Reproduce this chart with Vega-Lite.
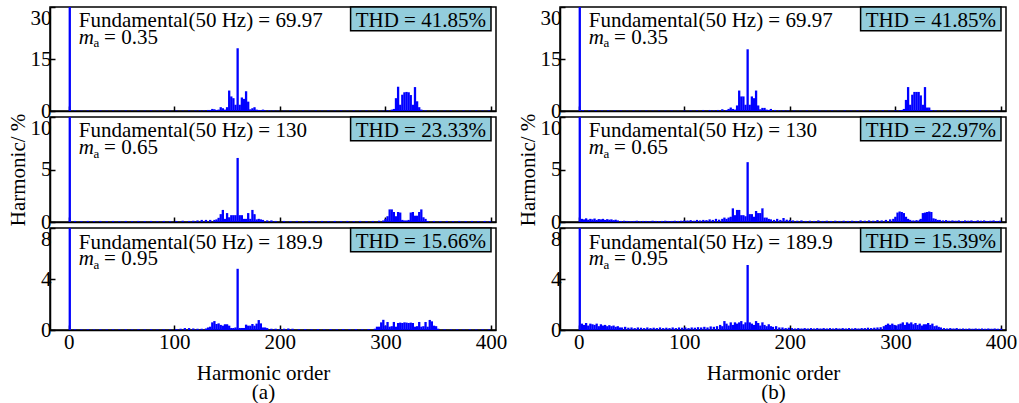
{
  "$schema": "https://vega.github.io/schema/vega-lite/v6.json",
  "padding": {"left": 6, "top": 5, "right": 2, "bottom": 2},
  "config": {
    "font": "Liberation Serif",
    "view": {"stroke": "black", "strokeWidth": 1.5},
    "axis": {
      "grid": false,
      "domainColor": "black",
      "domainWidth": 1.5,
      "tickColor": "black",
      "tickWidth": 1.5,
      "tickSize": -5,
      "labelFont": "Liberation Serif",
      "labelFontSize": 21,
      "labelColor": "black",
      "titleFont": "Liberation Serif",
      "titleFontSize": 21,
      "titleFontWeight": "normal",
      "titleColor": "black"
    },
    "text": {"font": "Liberation Serif", "fill": "black", "baseline": "alphabetic", "align": "left", "fontSize": 21}
  },
  "datasets": {
    "a1": [
      {"h":1,"v":100},
      {"h":6,"v":0.15},{"h":12,"v":0.1},{"h":18,"v":0.15},{"h":24,"v":0.1},{"h":30,"v":0.15},{"h":36,"v":0.1},{"h":42,"v":0.15},{"h":48,"v":0.1},{"h":54,"v":0.15},{"h":60,"v":0.1},{"h":66,"v":0.15},{"h":72,"v":0.1},{"h":78,"v":0.15},{"h":84,"v":0.1},{"h":90,"v":0.15},{"h":96,"v":0.1},{"h":102,"v":0.15},{"h":108,"v":0.1},{"h":114,"v":0.2},{"h":120,"v":0.15},
      {"h":124,"v":0.2},{"h":128,"v":0.2},{"h":132,"v":0.3},{"h":134,"v":0.3},{"h":136,"v":0.6},{"h":138,"v":0.5},{"h":140,"v":0.3},{"h":142,"v":0.4},{"h":144,"v":1.1},{"h":146,"v":0.8},{"h":148,"v":0.4},{"h":150,"v":1.1},{"h":152,"v":5.9},{"h":154,"v":4.2},{"h":156,"v":3.7},{"h":158,"v":1.8},{"h":160,"v":18.1},{"h":162,"v":1.8},{"h":164,"v":3.9},{"h":166,"v":3.5},{"h":168,"v":5.7},{"h":170,"v":2.7},{"h":172,"v":0.5},{"h":174,"v":0.8},{"h":176,"v":1.1},{"h":178,"v":0.4},{"h":180,"v":0.3},{"h":182,"v":0.2},{"h":184,"v":0.4},{"h":186,"v":0.2},{"h":190,"v":0.2},{"h":194,"v":0.15},{"h":198,"v":0.1},
      {"h":204,"v":0.1},{"h":210,"v":0.15},{"h":216,"v":0.1},{"h":222,"v":0.15},{"h":228,"v":0.1},{"h":234,"v":0.15},{"h":240,"v":0.1},{"h":246,"v":0.15},{"h":252,"v":0.1},{"h":258,"v":0.15},{"h":264,"v":0.1},{"h":270,"v":0.15},{"h":276,"v":0.1},{"h":282,"v":0.15},{"h":288,"v":0.1},{"h":294,"v":0.15},{"h":298,"v":0.1},
      {"h":302,"v":0.2},{"h":306,"v":0.4},{"h":308,"v":0.6},{"h":310,"v":3.7},{"h":312,"v":7.0},{"h":314,"v":1.8},{"h":316,"v":4.7},{"h":318,"v":5.4},{"h":320,"v":5.5},{"h":322,"v":5.4},{"h":324,"v":4.6},{"h":326,"v":1.8},{"h":328,"v":6.9},{"h":330,"v":2.8},{"h":332,"v":1.1},{"h":334,"v":0.4},{"h":338,"v":0.2},
      {"h":344,"v":0.1},{"h":350,"v":0.15},{"h":356,"v":0.1},{"h":362,"v":0.15},{"h":368,"v":0.1},{"h":374,"v":0.15},{"h":380,"v":0.1},{"h":386,"v":0.15},{"h":392,"v":0.1},{"h":398,"v":0.15}
    ],
    "a2": [
      {"h":1,"v":100},
      {"h":6,"v":0.1},{"h":12,"v":0.08},{"h":18,"v":0.1},{"h":24,"v":0.08},{"h":30,"v":0.1},{"h":36,"v":0.08},{"h":42,"v":0.1},{"h":48,"v":0.08},{"h":54,"v":0.1},{"h":60,"v":0.08},{"h":66,"v":0.1},{"h":72,"v":0.08},{"h":78,"v":0.1},{"h":84,"v":0.08},{"h":90,"v":0.1},{"h":96,"v":0.08},{"h":102,"v":0.1},{"h":108,"v":0.12},{"h":114,"v":0.1},{"h":118,"v":0.12},
      {"h":122,"v":0.15},{"h":126,"v":0.2},{"h":130,"v":0.2},{"h":134,"v":0.2},{"h":138,"v":0.2},{"h":140,"v":0.25},{"h":142,"v":0.4},{"h":144,"v":0.75},{"h":146,"v":1.15},{"h":148,"v":0.3},{"h":150,"v":0.85},{"h":152,"v":0.45},{"h":154,"v":0.65},{"h":156,"v":0.65},{"h":158,"v":0.65},{"h":160,"v":6.1},{"h":162,"v":0.65},{"h":164,"v":0.65},{"h":166,"v":0.3},{"h":168,"v":0.3},{"h":170,"v":0.85},{"h":172,"v":0.3},{"h":174,"v":1.15},{"h":176,"v":0.75},{"h":178,"v":0.25},{"h":180,"v":0.3},{"h":182,"v":0.25},{"h":184,"v":0.2},{"h":188,"v":0.15},{"h":192,"v":0.15},{"h":196,"v":0.1},
      {"h":204,"v":0.1},{"h":210,"v":0.08},{"h":216,"v":0.1},{"h":222,"v":0.08},{"h":228,"v":0.1},{"h":234,"v":0.08},{"h":240,"v":0.1},{"h":246,"v":0.08},{"h":252,"v":0.1},{"h":258,"v":0.08},{"h":264,"v":0.1},{"h":270,"v":0.08},{"h":276,"v":0.1},{"h":282,"v":0.08},{"h":288,"v":0.1},{"h":294,"v":0.12},
      {"h":298,"v":0.15},{"h":300,"v":0.3},{"h":302,"v":0.55},{"h":304,"v":1.2},{"h":306,"v":1.2},{"h":308,"v":0.95},{"h":310,"v":0.55},{"h":312,"v":0.95},{"h":314,"v":0.9},{"h":316,"v":0.2},{"h":318,"v":0.15},{"h":320,"v":0.15},{"h":322,"v":0.2},{"h":324,"v":0.9},{"h":326,"v":0.95},{"h":328,"v":0.6},{"h":330,"v":0.6},{"h":332,"v":0.95},{"h":334,"v":1.2},{"h":336,"v":0.45},{"h":338,"v":0.3},{"h":340,"v":0.1},
      {"h":346,"v":0.1},{"h":352,"v":0.08},{"h":358,"v":0.1},{"h":364,"v":0.08},{"h":370,"v":0.1},{"h":376,"v":0.08},{"h":382,"v":0.1},{"h":388,"v":0.08},{"h":394,"v":0.1},{"h":399,"v":0.08}
    ],
    "a3": [
      {"h":1,"v":100},
      {"h":6,"v":0.06},{"h":12,"v":0.05},{"h":18,"v":0.06},{"h":24,"v":0.05},{"h":30,"v":0.06},{"h":36,"v":0.05},{"h":42,"v":0.06},{"h":48,"v":0.05},{"h":54,"v":0.06},{"h":60,"v":0.05},{"h":66,"v":0.06},{"h":72,"v":0.05},{"h":78,"v":0.06},{"h":84,"v":0.05},{"h":90,"v":0.06},{"h":96,"v":0.05},{"h":102,"v":0.08},{"h":106,"v":0.1},{"h":110,"v":0.15},{"h":114,"v":0.15},{"h":118,"v":0.12},{"h":122,"v":0.1},{"h":126,"v":0.1},{"h":130,"v":0.12},
      {"h":132,"v":0.2},{"h":134,"v":0.26},{"h":136,"v":0.6},{"h":138,"v":0.7},{"h":140,"v":0.47},{"h":142,"v":0.52},{"h":144,"v":0.4},{"h":146,"v":0.34},{"h":148,"v":0.45},{"h":150,"v":0.45},{"h":152,"v":0.34},{"h":154,"v":0.16},{"h":156,"v":0.16},{"h":158,"v":0.2},{"h":160,"v":4.8},{"h":162,"v":0.16},{"h":164,"v":0.16},{"h":166,"v":0.16},{"h":168,"v":0.42},{"h":170,"v":0.34},{"h":172,"v":0.34},{"h":174,"v":0.47},{"h":176,"v":0.34},{"h":178,"v":0.5},{"h":180,"v":0.78},{"h":182,"v":0.52},{"h":184,"v":0.2},{"h":186,"v":0.2},{"h":188,"v":0.15},{"h":192,"v":0.1},{"h":196,"v":0.1},{"h":200,"v":0.08},{"h":204,"v":0.1},{"h":208,"v":0.12},{"h":212,"v":0.1},
      {"h":218,"v":0.06},{"h":224,"v":0.08},{"h":230,"v":0.06},{"h":236,"v":0.08},{"h":242,"v":0.06},{"h":248,"v":0.08},{"h":254,"v":0.06},{"h":260,"v":0.08},{"h":266,"v":0.06},{"h":272,"v":0.08},{"h":278,"v":0.06},{"h":284,"v":0.08},
      {"h":290,"v":0.1},{"h":292,"v":0.26},{"h":294,"v":0.26},{"h":296,"v":0.6},{"h":298,"v":0.8},{"h":300,"v":0.34},{"h":302,"v":0.63},{"h":304,"v":0.26},{"h":306,"v":0.3},{"h":308,"v":0.63},{"h":310,"v":0.26},{"h":312,"v":0.55},{"h":314,"v":0.58},{"h":316,"v":0.55},{"h":318,"v":0.6},{"h":320,"v":0.58},{"h":322,"v":0.55},{"h":324,"v":0.58},{"h":326,"v":0.55},{"h":328,"v":0.26},{"h":330,"v":0.3},{"h":332,"v":0.63},{"h":334,"v":0.26},{"h":336,"v":0.3},{"h":338,"v":0.63},{"h":340,"v":0.26},{"h":342,"v":0.79},{"h":344,"v":0.68},{"h":346,"v":0.34},{"h":348,"v":0.3},{"h":350,"v":0.1},
      {"h":356,"v":0.06},{"h":362,"v":0.05},{"h":368,"v":0.06},{"h":374,"v":0.05},{"h":380,"v":0.06},{"h":386,"v":0.05},{"h":392,"v":0.06},{"h":398,"v":0.05}
    ],
    "b1": [
      {"h":1,"v":100},
      {"h":4,"v":0.25},{"h":10,"v":0.2},{"h":16,"v":0.25},{"h":22,"v":0.15},{"h":28,"v":0.2},{"h":34,"v":0.15},{"h":40,"v":0.15},{"h":46,"v":0.1},{"h":52,"v":0.15},{"h":58,"v":0.1},{"h":64,"v":0.15},{"h":70,"v":0.1},{"h":76,"v":0.15},{"h":82,"v":0.1},{"h":88,"v":0.15},{"h":94,"v":0.1},{"h":100,"v":0.15},{"h":106,"v":0.15},{"h":112,"v":0.2},{"h":118,"v":0.3},
      {"h":124,"v":0.3},{"h":128,"v":0.2},{"h":132,"v":0.3},{"h":136,"v":0.5},{"h":140,"v":0.3},{"h":142,"v":0.6},{"h":144,"v":1.0},{"h":146,"v":0.6},{"h":148,"v":0.4},{"h":150,"v":1.6},{"h":152,"v":5.9},{"h":154,"v":4.2},{"h":156,"v":4.2},{"h":158,"v":1.8},{"h":160,"v":17.8},{"h":162,"v":1.8},{"h":164,"v":4.2},{"h":166,"v":3.7},{"h":168,"v":5.9},{"h":170,"v":1.6},{"h":172,"v":0.5},{"h":174,"v":0.9},{"h":176,"v":0.9},{"h":178,"v":0.4},{"h":180,"v":0.3},{"h":182,"v":0.6},{"h":186,"v":0.3},{"h":190,"v":0.2},{"h":194,"v":0.2},{"h":198,"v":0.15},
      {"h":204,"v":0.15},{"h":210,"v":0.1},{"h":216,"v":0.15},{"h":222,"v":0.1},{"h":228,"v":0.15},{"h":234,"v":0.1},{"h":240,"v":0.15},{"h":246,"v":0.1},{"h":252,"v":0.15},{"h":258,"v":0.1},{"h":264,"v":0.15},{"h":270,"v":0.1},{"h":276,"v":0.15},{"h":282,"v":0.15},{"h":288,"v":0.2},{"h":294,"v":0.15},{"h":300,"v":0.2},
      {"h":304,"v":0.2},{"h":306,"v":0.3},{"h":308,"v":0.6},{"h":310,"v":3.2},{"h":312,"v":6.9},{"h":314,"v":1.8},{"h":316,"v":4.7},{"h":318,"v":5.5},{"h":320,"v":5.5},{"h":322,"v":5.5},{"h":324,"v":4.5},{"h":326,"v":1.8},{"h":328,"v":6.9},{"h":330,"v":1.0},{"h":332,"v":1.0},{"h":334,"v":0.3},{"h":338,"v":0.2},
      {"h":344,"v":0.15},{"h":350,"v":0.1},{"h":356,"v":0.15},{"h":362,"v":0.1},{"h":368,"v":0.15},{"h":374,"v":0.1},{"h":380,"v":0.15},{"h":386,"v":0.1},{"h":392,"v":0.15},{"h":398,"v":0.1}
    ],
    "b2": [
      {"h":1,"v":100},
      {"h":3,"v":0.3},{"h":5,"v":0.25},{"h":7,"v":0.35},{"h":9,"v":0.22},{"h":11,"v":0.3},{"h":13,"v":0.25},{"h":15,"v":0.33},{"h":17,"v":0.2},{"h":19,"v":0.28},{"h":21,"v":0.25},{"h":23,"v":0.3},{"h":25,"v":0.2},{"h":27,"v":0.27},{"h":29,"v":0.22},{"h":31,"v":0.25},{"h":33,"v":0.18},{"h":35,"v":0.22},{"h":37,"v":0.15},
      {"h":40,"v":0.1},{"h":43,"v":0.12},{"h":46,"v":0.1},{"h":49,"v":0.08},{"h":52,"v":0.1},{"h":55,"v":0.12},{"h":58,"v":0.08},{"h":61,"v":0.1},{"h":64,"v":0.1},{"h":67,"v":0.08},{"h":70,"v":0.12},{"h":73,"v":0.1},{"h":76,"v":0.08},{"h":79,"v":0.1},{"h":82,"v":0.12},{"h":85,"v":0.1},{"h":88,"v":0.1},{"h":91,"v":0.12},{"h":94,"v":0.1},{"h":97,"v":0.12},{"h":100,"v":0.15},
      {"h":103,"v":0.15},{"h":106,"v":0.18},{"h":109,"v":0.12},{"h":112,"v":0.2},{"h":115,"v":0.15},{"h":118,"v":0.2},{"h":121,"v":0.18},{"h":124,"v":0.25},{"h":127,"v":0.2},{"h":130,"v":0.3},{"h":133,"v":0.22},{"h":136,"v":0.3},
      {"h":138,"v":0.42},{"h":140,"v":0.3},{"h":142,"v":0.42},{"h":144,"v":0.5},{"h":146,"v":1.3},{"h":148,"v":0.65},{"h":150,"v":1.15},{"h":152,"v":1.15},{"h":154,"v":0.65},{"h":156,"v":0.65},{"h":158,"v":0.55},{"h":160,"v":5.7},{"h":162,"v":0.75},{"h":164,"v":0.75},{"h":166,"v":0.5},{"h":168,"v":1.05},{"h":170,"v":0.85},{"h":172,"v":0.85},{"h":174,"v":1.3},{"h":176,"v":0.42},{"h":178,"v":0.42},{"h":180,"v":0.3},{"h":182,"v":0.25},{"h":185,"v":0.2},{"h":188,"v":0.3},{"h":191,"v":0.2},{"h":194,"v":0.38},{"h":197,"v":0.22},{"h":200,"v":0.2},
      {"h":203,"v":0.15},{"h":207,"v":0.12},{"h":211,"v":0.15},{"h":215,"v":0.1},{"h":219,"v":0.12},{"h":223,"v":0.1},{"h":227,"v":0.15},{"h":231,"v":0.1},{"h":235,"v":0.12},{"h":239,"v":0.1},{"h":243,"v":0.12},{"h":247,"v":0.1},{"h":251,"v":0.12},{"h":255,"v":0.1},{"h":259,"v":0.12},{"h":263,"v":0.1},{"h":267,"v":0.15},{"h":271,"v":0.12},{"h":275,"v":0.15},{"h":279,"v":0.12},{"h":283,"v":0.18},{"h":287,"v":0.15},{"h":291,"v":0.2},{"h":295,"v":0.25},{"h":298,"v":0.3},
      {"h":300,"v":0.5},{"h":302,"v":0.9},{"h":304,"v":1.0},{"h":306,"v":0.95},{"h":308,"v":0.85},{"h":310,"v":0.5},{"h":312,"v":0.3},{"h":314,"v":0.2},{"h":317,"v":0.15},{"h":320,"v":0.18},{"h":323,"v":0.2},{"h":324,"v":0.3},{"h":326,"v":0.85},{"h":328,"v":0.9},{"h":330,"v":0.95},{"h":332,"v":1.0},{"h":334,"v":0.95},{"h":336,"v":0.35},{"h":338,"v":0.3},{"h":340,"v":0.2},
      {"h":342,"v":0.2},{"h":345,"v":0.15},{"h":348,"v":0.18},{"h":351,"v":0.12},{"h":354,"v":0.15},{"h":357,"v":0.12},{"h":360,"v":0.15},{"h":363,"v":0.1},{"h":366,"v":0.15},{"h":369,"v":0.12},{"h":372,"v":0.15},{"h":375,"v":0.1},{"h":378,"v":0.15},{"h":381,"v":0.12},{"h":384,"v":0.15},{"h":387,"v":0.1},{"h":390,"v":0.12},{"h":393,"v":0.15},{"h":396,"v":0.1},{"h":399,"v":0.12}
    ],
    "b3": [
      {"h":1,"v":100},
      {"h":3,"v":0.5},{"h":5,"v":0.4},{"h":7,"v":0.55},{"h":9,"v":0.35},{"h":11,"v":0.5},{"h":13,"v":0.45},{"h":15,"v":0.4},{"h":17,"v":0.5},{"h":19,"v":0.3},{"h":21,"v":0.45},{"h":23,"v":0.35},{"h":25,"v":0.4},{"h":27,"v":0.3},{"h":29,"v":0.38},{"h":31,"v":0.3},{"h":33,"v":0.35},{"h":35,"v":0.25},{"h":37,"v":0.3},{"h":39,"v":0.2},
      {"h":41,"v":0.2},{"h":44,"v":0.25},{"h":47,"v":0.18},{"h":50,"v":0.2},{"h":53,"v":0.15},{"h":56,"v":0.2},{"h":59,"v":0.18},{"h":62,"v":0.15},{"h":65,"v":0.2},{"h":68,"v":0.15},{"h":71,"v":0.18},{"h":74,"v":0.15},{"h":77,"v":0.2},{"h":80,"v":0.15},{"h":83,"v":0.18},{"h":86,"v":0.15},{"h":89,"v":0.2},{"h":92,"v":0.15},{"h":95,"v":0.2},{"h":98,"v":0.18},{"h":101,"v":0.2},{"h":104,"v":0.15},{"h":107,"v":0.2},{"h":110,"v":0.18},{"h":113,"v":0.22},{"h":116,"v":0.2},{"h":119,"v":0.25},{"h":122,"v":0.2},{"h":125,"v":0.28},{"h":128,"v":0.25},{"h":131,"v":0.3},
      {"h":134,"v":0.4},{"h":136,"v":0.3},{"h":138,"v":0.7},{"h":140,"v":0.5},{"h":142,"v":0.35},{"h":144,"v":0.6},{"h":146,"v":0.4},{"h":148,"v":0.6},{"h":150,"v":0.5},{"h":152,"v":0.6},{"h":154,"v":0.7},{"h":156,"v":0.45},{"h":158,"v":0.6},{"h":160,"v":5.1},{"h":162,"v":0.6},{"h":164,"v":0.5},{"h":166,"v":0.4},{"h":168,"v":0.7},{"h":170,"v":0.55},{"h":172,"v":0.35},{"h":174,"v":0.6},{"h":176,"v":0.4},{"h":178,"v":0.3},{"h":180,"v":0.45},{"h":182,"v":0.3},{"h":184,"v":0.25},{"h":187,"v":0.3},{"h":190,"v":0.2},
      {"h":193,"v":0.2},{"h":196,"v":0.15},{"h":199,"v":0.18},{"h":202,"v":0.15},{"h":205,"v":0.12},{"h":208,"v":0.15},{"h":211,"v":0.12},{"h":214,"v":0.15},{"h":217,"v":0.12},{"h":220,"v":0.15},{"h":223,"v":0.12},{"h":226,"v":0.15},{"h":229,"v":0.12},{"h":232,"v":0.15},{"h":235,"v":0.12},{"h":238,"v":0.15},{"h":241,"v":0.12},{"h":244,"v":0.15},{"h":247,"v":0.12},{"h":250,"v":0.15},{"h":253,"v":0.12},{"h":256,"v":0.15},{"h":259,"v":0.12},{"h":262,"v":0.15},{"h":265,"v":0.12},{"h":268,"v":0.15},{"h":271,"v":0.15},{"h":274,"v":0.18},{"h":277,"v":0.15},{"h":280,"v":0.18},{"h":283,"v":0.2},{"h":286,"v":0.22},
      {"h":289,"v":0.3},{"h":291,"v":0.4},{"h":293,"v":0.5},{"h":295,"v":0.4},{"h":297,"v":0.5},{"h":299,"v":0.4},{"h":301,"v":0.35},{"h":303,"v":0.45},{"h":305,"v":0.5},{"h":307,"v":0.6},{"h":309,"v":0.4},{"h":311,"v":0.6},{"h":313,"v":0.5},{"h":315,"v":0.6},{"h":317,"v":0.45},{"h":319,"v":0.55},{"h":321,"v":0.4},{"h":323,"v":0.5},{"h":325,"v":0.35},{"h":327,"v":0.45},{"h":329,"v":0.45},{"h":331,"v":0.55},{"h":333,"v":0.4},{"h":335,"v":0.5},{"h":337,"v":0.3},{"h":339,"v":0.35},{"h":341,"v":0.25},{"h":343,"v":0.2},{"h":346,"v":0.15},
      {"h":349,"v":0.12},{"h":352,"v":0.15},{"h":355,"v":0.12},{"h":358,"v":0.15},{"h":361,"v":0.1},{"h":364,"v":0.12},{"h":367,"v":0.1},{"h":370,"v":0.12},{"h":373,"v":0.1},{"h":376,"v":0.12},{"h":379,"v":0.1},{"h":382,"v":0.12},{"h":385,"v":0.1},{"h":388,"v":0.12},{"h":391,"v":0.1},{"h":394,"v":0.12},{"h":397,"v":0.1},{"h":400,"v":0.1}
    ]
  },
  "columns": 2,
  "spacing": {"row": 6, "column": 64},
  "bounds": "flush",
  "resolve": {"scale": {"x": "independent", "y": "independent"}},
  "concat": [
    {
      "width": 446, "height": 104,
      "layer": [
        {"data": {"name": "a1"}, "mark": {"type": "bar", "color": "#0000ff", "width": 2.3, "clip": true},
         "encoding": {
           "x": {"field": "h", "type": "quantitative", "scale": {"domain": [-13, 400], "nice": false, "zero": false}, "axis": {"values": [0, 100, 200, 300, 400], "labels": false, "title": null}},
           "y": {"field": "v", "type": "quantitative", "scale": {"domain": [0, 30], "nice": false}, "axis": {"values": [0, 15, 30], "title": null, "labelPadding": 4, "labelBaseline": {"condition": {"test": "datum.value === 30", "value": "top"}, "value": "middle"}}}}},
        {"data": {"values": [{}]}, "mark": {"type": "rect", "fill": "#93cddc", "stroke": "black", "strokeWidth": 1.5},
         "encoding": {"x": {"datum": 267, "type": "quantitative"}, "x2": {"datum": 400}, "y": {"datum": 30, "type": "quantitative"}, "y2": {"datum": 23.14}}},
        {"data": {"values": [{}]}, "mark": {"type": "text", "text": "THD = 41.85%", "align": "center"},
         "encoding": {"x": {"datum": 333.5, "type": "quantitative"}, "y": {"datum": 24.23, "type": "quantitative"}}},
        {"data": {"values": [{}]}, "mark": {"type": "text", "text": "Fundamental(50 Hz) = 69.97"},
         "encoding": {"x": {"datum": 9.5, "type": "quantitative"}, "y": {"datum": 24.09, "type": "quantitative"}}},
        {"data": {"values": [{}]}, "mark": {"type": "text", "text": "m", "fontStyle": "italic"},
         "encoding": {"x": {"datum": 9.5, "type": "quantitative"}, "y": {"datum": 19.39, "type": "quantitative"}}},
        {"data": {"values": [{}]}, "mark": {"type": "text", "text": "a", "fontSize": 13},
         "encoding": {"x": {"datum": 23.5, "type": "quantitative"}, "y": {"datum": 18.32, "type": "quantitative"}}},
        {"data": {"values": [{}]}, "mark": {"type": "text", "text": "= 0.35"},
         "encoding": {"x": {"datum": 33.5, "type": "quantitative"}, "y": {"datum": 19.39, "type": "quantitative"}}}
      ]
    },
    {
      "width": 446, "height": 104,
      "layer": [
        {"data": {"name": "b1"}, "mark": {"type": "bar", "color": "#0000ff", "width": 2.3, "clip": true},
         "encoding": {
           "x": {"field": "h", "type": "quantitative", "scale": {"domain": [-13, 400], "nice": false, "zero": false}, "axis": {"values": [0, 100, 200, 300, 400], "labels": false, "title": null}},
           "y": {"field": "v", "type": "quantitative", "scale": {"domain": [0, 30], "nice": false}, "axis": {"values": [0, 15, 30], "title": null, "labelPadding": 4, "labelBaseline": {"condition": {"test": "datum.value === 30", "value": "top"}, "value": "middle"}}}}},
        {"data": {"values": [{}]}, "mark": {"type": "rect", "fill": "#93cddc", "stroke": "black", "strokeWidth": 1.5},
         "encoding": {"x": {"datum": 267, "type": "quantitative"}, "x2": {"datum": 400}, "y": {"datum": 30, "type": "quantitative"}, "y2": {"datum": 23.14}}},
        {"data": {"values": [{}]}, "mark": {"type": "text", "text": "THD = 41.85%", "align": "center"},
         "encoding": {"x": {"datum": 333.5, "type": "quantitative"}, "y": {"datum": 24.23, "type": "quantitative"}}},
        {"data": {"values": [{}]}, "mark": {"type": "text", "text": "Fundamental(50 Hz) = 69.97"},
         "encoding": {"x": {"datum": 9.5, "type": "quantitative"}, "y": {"datum": 24.09, "type": "quantitative"}}},
        {"data": {"values": [{}]}, "mark": {"type": "text", "text": "m", "fontStyle": "italic"},
         "encoding": {"x": {"datum": 9.5, "type": "quantitative"}, "y": {"datum": 19.39, "type": "quantitative"}}},
        {"data": {"values": [{}]}, "mark": {"type": "text", "text": "a", "fontSize": 13},
         "encoding": {"x": {"datum": 23.5, "type": "quantitative"}, "y": {"datum": 18.32, "type": "quantitative"}}},
        {"data": {"values": [{}]}, "mark": {"type": "text", "text": "= 0.35"},
         "encoding": {"x": {"datum": 33.5, "type": "quantitative"}, "y": {"datum": 19.39, "type": "quantitative"}}}
      ]
    },
    {
      "width": 446, "height": 105,
      "layer": [
        {"data": {"name": "a2"}, "mark": {"type": "bar", "color": "#0000ff", "width": 2.3, "clip": true},
         "encoding": {
           "x": {"field": "h", "type": "quantitative", "scale": {"domain": [-13, 400], "nice": false, "zero": false}, "axis": {"values": [0, 100, 200, 300, 400], "labels": false, "title": null}},
           "y": {"field": "v", "type": "quantitative", "scale": {"domain": [0, 10], "nice": false}, "axis": {"values": [0, 5, 10], "title": "Harmonic/ %", "titlePadding": 2, "labelPadding": 4, "labelBaseline": {"condition": {"test": "datum.value === 10", "value": "top"}, "value": "middle"}}}}},
        {"data": {"values": [{}]}, "mark": {"type": "rect", "fill": "#93cddc", "stroke": "black", "strokeWidth": 1.5},
         "encoding": {"x": {"datum": 267, "type": "quantitative"}, "x2": {"datum": 400}, "y": {"datum": 10, "type": "quantitative"}, "y2": {"datum": 7.73}}},
        {"data": {"values": [{}]}, "mark": {"type": "text", "text": "THD = 23.33%", "align": "center"},
         "encoding": {"x": {"datum": 333.5, "type": "quantitative"}, "y": {"datum": 8.1, "type": "quantitative"}}},
        {"data": {"values": [{}]}, "mark": {"type": "text", "text": "Fundamental(50 Hz) = 130"},
         "encoding": {"x": {"datum": 9.5, "type": "quantitative"}, "y": {"datum": 8.05, "type": "quantitative"}}},
        {"data": {"values": [{}]}, "mark": {"type": "text", "text": "m", "fontStyle": "italic"},
         "encoding": {"x": {"datum": 9.5, "type": "quantitative"}, "y": {"datum": 6.5, "type": "quantitative"}}},
        {"data": {"values": [{}]}, "mark": {"type": "text", "text": "a", "fontSize": 13},
         "encoding": {"x": {"datum": 23.5, "type": "quantitative"}, "y": {"datum": 6.14, "type": "quantitative"}}},
        {"data": {"values": [{}]}, "mark": {"type": "text", "text": "= 0.65"},
         "encoding": {"x": {"datum": 33.5, "type": "quantitative"}, "y": {"datum": 6.5, "type": "quantitative"}}}
      ]
    },
    {
      "width": 446, "height": 105,
      "layer": [
        {"data": {"name": "b2"}, "mark": {"type": "bar", "color": "#0000ff", "width": 2.3, "clip": true},
         "encoding": {
           "x": {"field": "h", "type": "quantitative", "scale": {"domain": [-13, 400], "nice": false, "zero": false}, "axis": {"values": [0, 100, 200, 300, 400], "labels": false, "title": null}},
           "y": {"field": "v", "type": "quantitative", "scale": {"domain": [0, 10], "nice": false}, "axis": {"values": [0, 5, 10], "title": "Harmonic/ %", "titlePadding": 2, "labelPadding": 4, "labelBaseline": {"condition": {"test": "datum.value === 10", "value": "top"}, "value": "middle"}}}}},
        {"data": {"values": [{}]}, "mark": {"type": "rect", "fill": "#93cddc", "stroke": "black", "strokeWidth": 1.5},
         "encoding": {"x": {"datum": 267, "type": "quantitative"}, "x2": {"datum": 400}, "y": {"datum": 10, "type": "quantitative"}, "y2": {"datum": 7.73}}},
        {"data": {"values": [{}]}, "mark": {"type": "text", "text": "THD = 22.97%", "align": "center"},
         "encoding": {"x": {"datum": 333.5, "type": "quantitative"}, "y": {"datum": 8.1, "type": "quantitative"}}},
        {"data": {"values": [{}]}, "mark": {"type": "text", "text": "Fundamental(50 Hz) = 130"},
         "encoding": {"x": {"datum": 9.5, "type": "quantitative"}, "y": {"datum": 8.05, "type": "quantitative"}}},
        {"data": {"values": [{}]}, "mark": {"type": "text", "text": "m", "fontStyle": "italic"},
         "encoding": {"x": {"datum": 9.5, "type": "quantitative"}, "y": {"datum": 6.5, "type": "quantitative"}}},
        {"data": {"values": [{}]}, "mark": {"type": "text", "text": "a", "fontSize": 13},
         "encoding": {"x": {"datum": 23.5, "type": "quantitative"}, "y": {"datum": 6.14, "type": "quantitative"}}},
        {"data": {"values": [{}]}, "mark": {"type": "text", "text": "= 0.65"},
         "encoding": {"x": {"datum": 33.5, "type": "quantitative"}, "y": {"datum": 6.5, "type": "quantitative"}}}
      ]
    },
    {
      "width": 446, "height": 102,
      "layer": [
        {"data": {"name": "a3"}, "mark": {"type": "bar", "color": "#0000ff", "width": 2.3, "clip": true},
         "encoding": {
           "x": {"field": "h", "type": "quantitative", "scale": {"domain": [-13, 400], "nice": false, "zero": false}, "axis": {"values": [0, 100, 200, 300, 400], "title": ["Harmonic order", "(a)"], "labelPadding": 6, "labelFlush": false, "titlePadding": 10, "titleLineHeight": 19, "titleX": 213}},
           "y": {"field": "v", "type": "quantitative", "scale": {"domain": [0, 8], "nice": false}, "axis": {"values": [0, 4, 8], "title": null, "labelPadding": 4, "labelBaseline": {"condition": {"test": "datum.value === 8", "value": "top"}, "value": "middle"}}}}},
        {"data": {"values": [{}]}, "mark": {"type": "rect", "fill": "#93cddc", "stroke": "black", "strokeWidth": 1.5},
         "encoding": {"x": {"datum": 267, "type": "quantitative"}, "x2": {"datum": 400}, "y": {"datum": 8, "type": "quantitative"}, "y2": {"datum": 6.13}}},
        {"data": {"values": [{}]}, "mark": {"type": "text", "text": "THD = 15.66%", "align": "center"},
         "encoding": {"x": {"datum": 333.5, "type": "quantitative"}, "y": {"datum": 6.43, "type": "quantitative"}}},
        {"data": {"values": [{}]}, "mark": {"type": "text", "text": "Fundamental(50 Hz) = 189.9"},
         "encoding": {"x": {"datum": 9.5, "type": "quantitative"}, "y": {"datum": 6.39, "type": "quantitative"}}},
        {"data": {"values": [{}]}, "mark": {"type": "text", "text": "m", "fontStyle": "italic"},
         "encoding": {"x": {"datum": 9.5, "type": "quantitative"}, "y": {"datum": 5.11, "type": "quantitative"}}},
        {"data": {"values": [{}]}, "mark": {"type": "text", "text": "a", "fontSize": 13},
         "encoding": {"x": {"datum": 23.5, "type": "quantitative"}, "y": {"datum": 4.82, "type": "quantitative"}}},
        {"data": {"values": [{}]}, "mark": {"type": "text", "text": "= 0.95"},
         "encoding": {"x": {"datum": 33.5, "type": "quantitative"}, "y": {"datum": 5.11, "type": "quantitative"}}}
      ]
    },
    {
      "width": 446, "height": 102,
      "layer": [
        {"data": {"name": "b3"}, "mark": {"type": "bar", "color": "#0000ff", "width": 2.3, "clip": true},
         "encoding": {
           "x": {"field": "h", "type": "quantitative", "scale": {"domain": [-13, 400], "nice": false, "zero": false}, "axis": {"values": [0, 100, 200, 300, 400], "title": ["Harmonic order", "(b)"], "labelPadding": 6, "labelFlush": false, "titlePadding": 10, "titleLineHeight": 19, "titleX": 213}},
           "y": {"field": "v", "type": "quantitative", "scale": {"domain": [0, 8], "nice": false}, "axis": {"values": [0, 4, 8], "title": null, "labelPadding": 4, "labelBaseline": {"condition": {"test": "datum.value === 8", "value": "top"}, "value": "middle"}}}}},
        {"data": {"values": [{}]}, "mark": {"type": "rect", "fill": "#93cddc", "stroke": "black", "strokeWidth": 1.5},
         "encoding": {"x": {"datum": 267, "type": "quantitative"}, "x2": {"datum": 400}, "y": {"datum": 8, "type": "quantitative"}, "y2": {"datum": 6.13}}},
        {"data": {"values": [{}]}, "mark": {"type": "text", "text": "THD = 15.39%", "align": "center"},
         "encoding": {"x": {"datum": 333.5, "type": "quantitative"}, "y": {"datum": 6.43, "type": "quantitative"}}},
        {"data": {"values": [{}]}, "mark": {"type": "text", "text": "Fundamental(50 Hz) = 189.9"},
         "encoding": {"x": {"datum": 9.5, "type": "quantitative"}, "y": {"datum": 6.39, "type": "quantitative"}}},
        {"data": {"values": [{}]}, "mark": {"type": "text", "text": "m", "fontStyle": "italic"},
         "encoding": {"x": {"datum": 9.5, "type": "quantitative"}, "y": {"datum": 5.11, "type": "quantitative"}}},
        {"data": {"values": [{}]}, "mark": {"type": "text", "text": "a", "fontSize": 13},
         "encoding": {"x": {"datum": 23.5, "type": "quantitative"}, "y": {"datum": 4.82, "type": "quantitative"}}},
        {"data": {"values": [{}]}, "mark": {"type": "text", "text": "= 0.95"},
         "encoding": {"x": {"datum": 33.5, "type": "quantitative"}, "y": {"datum": 5.11, "type": "quantitative"}}}
      ]
    }
  ]
}
